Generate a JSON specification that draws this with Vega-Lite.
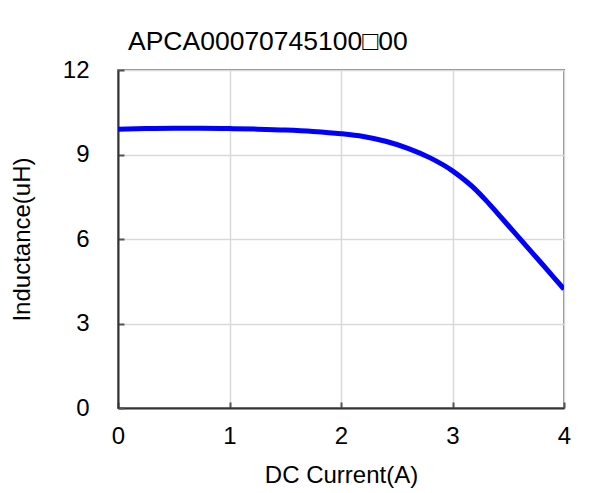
{
  "$schema": "https://vega.github.io/schema/vega-lite/v6.json",
  "width": 446,
  "height": 338,
  "autosize": {"type": "none"},
  "padding": {"left": 118, "top": 70, "right": 37, "bottom": 85},
  "background": "white",
  "title": {
    "text": "APCA00070745100□00",
    "anchor": "start",
    "frame": "group",
    "dx": 10,
    "offset": 3,
    "font": "Liberation Sans",
    "fontSize": 26.5,
    "fontWeight": "normal",
    "color": "#000000"
  },
  "data": {
    "values": [
      {"current": 0.0, "inductance": 9.90},
      {"current": 0.25, "inductance": 9.92},
      {"current": 0.5, "inductance": 9.93},
      {"current": 0.75, "inductance": 9.93},
      {"current": 1.0, "inductance": 9.92},
      {"current": 1.25, "inductance": 9.90},
      {"current": 1.5, "inductance": 9.87},
      {"current": 1.75, "inductance": 9.82},
      {"current": 2.0, "inductance": 9.74},
      {"current": 2.2, "inductance": 9.64},
      {"current": 2.4, "inductance": 9.47},
      {"current": 2.6, "inductance": 9.22},
      {"current": 2.8, "inductance": 8.88},
      {"current": 3.0, "inductance": 8.42},
      {"current": 3.1, "inductance": 8.12},
      {"current": 3.2, "inductance": 7.78},
      {"current": 3.3, "inductance": 7.37},
      {"current": 3.4, "inductance": 6.93},
      {"current": 3.5, "inductance": 6.48},
      {"current": 3.6, "inductance": 6.03},
      {"current": 3.7, "inductance": 5.58},
      {"current": 3.8, "inductance": 5.13},
      {"current": 3.9, "inductance": 4.67},
      {"current": 4.0, "inductance": 4.22}
    ]
  },
  "mark": {"type": "line", "color": "#0000ff", "strokeWidth": 5, "interpolate": "monotone", "clip": true},
  "encoding": {
    "x": {
      "field": "current",
      "type": "quantitative",
      "scale": {"domain": [0, 4], "nice": false},
      "axis": {
        "title": "DC Current(A)",
        "values": [0, 1, 2, 3, 4],
        "tickSize": -6,
        "labelPadding": 22,
        "titlePadding": 15
      }
    },
    "y": {
      "field": "inductance",
      "type": "quantitative",
      "scale": {"domain": [0, 12], "nice": false},
      "axis": {
        "title": "Inductance(uH)",
        "values": [0, 3, 6, 9, 12],
        "tickSize": -6,
        "labelPadding": 35,
        "titlePadding": 28
      }
    }
  },
  "config": {
    "font": "Liberation Sans",
    "view": {"stroke": "#888888", "strokeWidth": 2},
    "axis": {
      "labelFont": "Liberation Sans",
      "labelFontSize": 24,
      "labelColor": "#000000",
      "titleFont": "Liberation Sans",
      "titleFontSize": 24,
      "titleFontWeight": "normal",
      "titleColor": "#000000",
      "gridColor": "#d9d9d9",
      "gridWidth": 1.5,
      "gridOpacity": 1,
      "domainColor": "#333333",
      "domainWidth": 2,
      "tickColor": "#555555",
      "tickWidth": 2,
      "labelFlush": false,
      "labelOverlap": false
    }
  }
}
